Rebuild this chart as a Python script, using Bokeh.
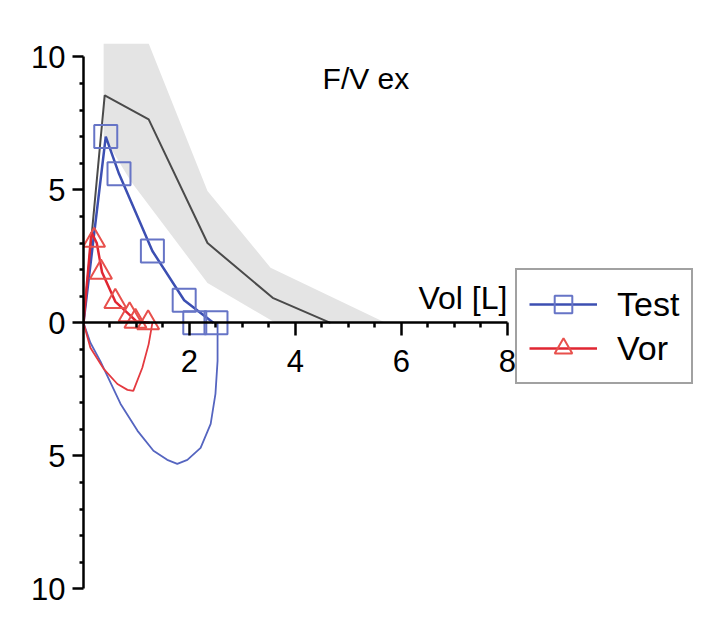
from bokeh.plotting import figure
from bokeh.models import Range1d, FixedTicker, Label, Legend, LegendItem
from bokeh.embed import file_html
from bokeh.resources import INLINE

# predicted expiratory curve (volume [L], flow [L/s])
pred_vol = [0.0, 0.40, 1.23, 2.34, 3.57, 4.66]
pred_flow = [0.0, 8.55, 7.65, 3.0, 0.94, 0.0]

# predicted range (grey band)
band_up_vol = [0.38, 1.23, 2.34, 3.53, 5.7]
band_up_flow = [10.5, 10.5, 4.96, 2.07, 0.0]
band_lo_vol = [0.38, 0.9, 2.34, 3.62]
band_lo_flow = [7.0, 5.3, 1.5, 0.0]

# Test
test_exp_vol = [0.0, 0.42, 0.67, 1.30, 1.90, 2.45]
test_exp_flow = [0.0, 7.0, 5.6, 2.7, 0.85, 0.0]
test_insp_vol = [0.0, 0.13, 0.32, 0.70, 1.02, 1.32, 1.58, 1.77, 1.96, 2.21, 2.40, 2.49, 2.53, 2.53]
test_insp_flow = [0.0, -0.75, -1.45, -3.05, -4.06, -4.81, -5.15, -5.3, -5.15, -4.7, -3.8, -2.67, -1.43, 0.0]
test_mark_vol = [0.42, 0.67, 1.30, 1.90, 2.10, 2.50]
test_mark_flow = [7.0, 5.6, 2.7, 0.85, 0.0, 0.0]

# Vor
vor_exp_vol = [0.0, 0.15, 0.25, 0.35, 0.60, 0.87, 1.0, 1.25]
vor_exp_flow = [0.0, 3.4, 3.0, 1.9, 0.8, 0.3, 0.05, 0.0]
vor_insp_vol = [0.0, 0.13, 0.38, 0.64, 0.83, 0.94, 1.11, 1.23, 1.30]
vor_insp_flow = [0.0, -0.94, -1.73, -2.3, -2.52, -2.56, -1.69, -0.8, 0.0]
vor_mark_vol = [0.20, 0.33, 0.60, 0.87, 0.98, 1.22]
vor_mark_flow = [3.1, 1.9, 0.8, 0.3, 0.05, 0.0]

x_ticks = [2, 4, 6, 8]
x_minor = [0.5, 1, 1.5, 2.5, 3, 3.5, 4.5, 5, 5.5, 6.5, 7, 7.5]
y_ticks = [-10, -5, 0, 5, 10]
y_minor = [-9, -8, -7, -6, -4, -3, -2, -1, 1, 2, 3, 4, 6, 7, 8, 9]

FONT = "Liberation Sans"

p = figure(width=712, height=612,
           x_range=Range1d(0, 11.7), y_range=Range1d(-10.4, 10.5),
           output_backend="svg", toolbar_location=None,
           min_border_left=83, min_border_right=9,
           min_border_top=43, min_border_bottom=13)
p.outline_line_color = None
p.grid.visible = False

# grey band
p.patch(band_up_vol + band_lo_vol[::-1], band_up_flow + band_lo_flow[::-1],
        fill_color="#e4e4e4", line_color=None)
p.line(pred_vol, pred_flow, line_color="#4a4a4a", line_width=2)

test_line = p.line(test_exp_vol, test_exp_flow, line_color="#3c4fb2", line_width=2.5)
p.line(test_insp_vol, test_insp_flow, line_color="#5565c0", line_width=1.8)
test_sq = p.scatter(test_mark_vol, test_mark_flow, marker="square", size=23,
                    fill_color=None, line_color="#6674c6", line_width=2)

vor_line = p.line(vor_exp_vol, vor_exp_flow, line_color="#e02632", line_width=2.5)
p.line(vor_insp_vol, vor_insp_flow, line_color="#e43a40", line_width=1.8)
vor_tri = p.scatter(vor_mark_vol, vor_mark_flow, marker="triangle", size=22,
                    fill_color=None, line_color="#e8504c", line_width=2)

# axes
p.xaxis.fixed_location = 0
p.xaxis.bounds = (0, 8)
p.xaxis.ticker = FixedTicker(ticks=x_ticks, minor_ticks=x_minor)
p.xaxis.major_tick_out = 13
p.xaxis.minor_tick_out = 5
p.xaxis.major_label_standoff = 14

p.yaxis.bounds = (-10, 10)
p.yaxis.ticker = FixedTicker(ticks=y_ticks, minor_ticks=y_minor)
p.yaxis.major_label_overrides = {-10: "10", -5: "5"}
p.yaxis.major_tick_out = 11
p.yaxis.minor_tick_out = 4
p.yaxis.major_label_standoff = 7

for ax in (p.xaxis, p.yaxis):
    ax.axis_line_width = 2.5
    ax.major_tick_line_width = 2.5
    ax.minor_tick_line_width = 2.5
    ax.major_tick_in = 0
    ax.minor_tick_in = 0
    ax.major_label_text_font = FONT
    ax.major_label_text_font_size = "31px"
    ax.major_label_text_color = "black"

p.add_layout(Label(x=5.33, y=9.2, text="F/V ex", text_align="center",
                   text_baseline="alphabetic", text_font=FONT, text_font_size="30px",
                   text_color="black"))
p.add_layout(Label(x=8, y=0.92, text="Vol [L]", text_align="right",
                   text_baseline="alphabetic", text_font=FONT, text_font_size="32px",
                   text_color="black"))

legend = Legend(items=[LegendItem(label="Test", renderers=[test_line, test_sq]),
                       LegendItem(label="Vor", renderers=[vor_line, vor_tri])],
                location=(432, 215))
legend.glyph_width = 68
legend.glyph_height = 44
legend.label_height = 44
legend.spacing = 0
legend.padding = 12
legend.margin = 0
legend.label_standoff = 20
legend.label_text_font = FONT
legend.label_text_font_size = "34px"
legend.label_text_color = "black"
legend.border_line_color = "#444444"
legend.border_line_width = 2
legend.background_fill_alpha = 1
p.add_layout(legend)

open("out.html", "w").write(file_html(p, INLINE))
